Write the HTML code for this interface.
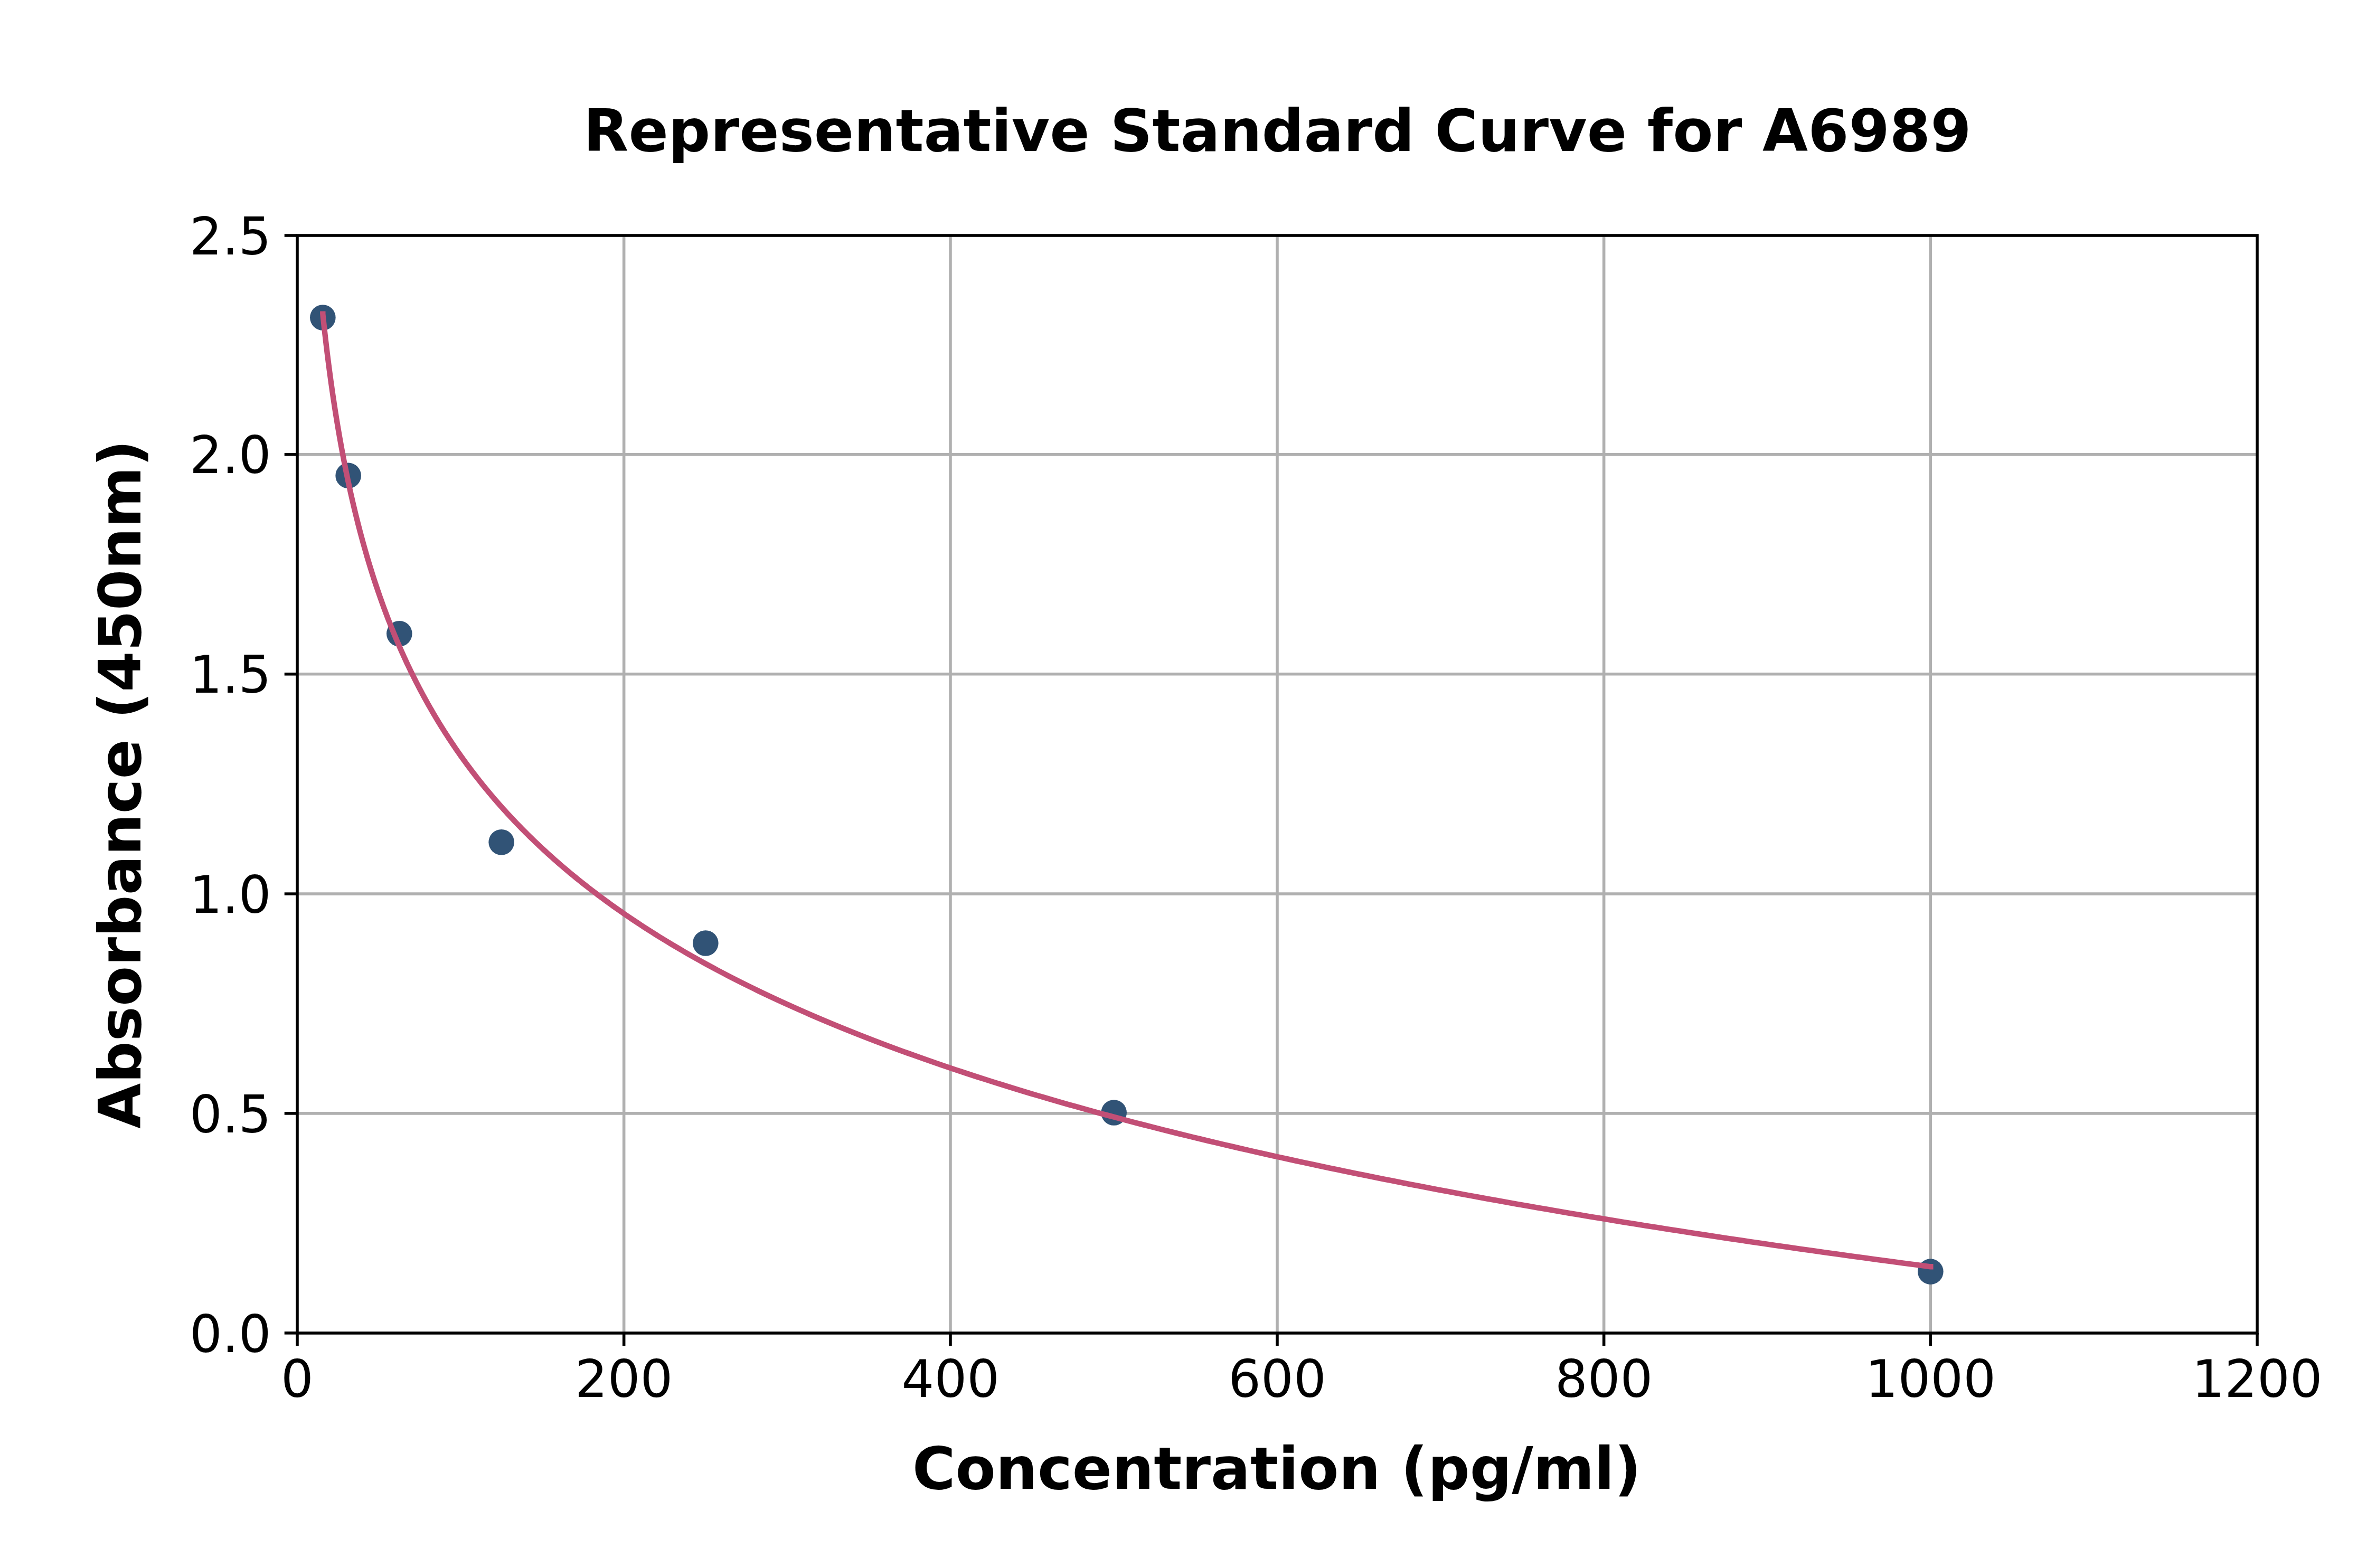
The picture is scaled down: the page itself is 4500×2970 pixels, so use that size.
<!DOCTYPE html>
<html lang="en"><head><meta charset="utf-8"><title>Representative Standard Curve for A6989</title>
<style>
html,body{margin:0;padding:0;background:#fff;}
body{width:4500px;height:2970px;overflow:hidden;}
svg{display:block;}
text{font-family:"DejaVu Sans","Liberation Sans",sans-serif;fill:#000;}
.tick{font-size:97.2px;}
.lab{font-size:111.1px;font-weight:bold;}
</style></head><body>
<svg width="4500" height="2970" viewBox="0 0 4500 2970">
<rect width="4500" height="2970" fill="#ffffff"/>

<g stroke="#b0b0b0" stroke-width="5.56" fill="none">
<line x1="1181.67" y1="446.0" x2="1181.67" y2="2525.0"/>
<line x1="1800.00" y1="446.0" x2="1800.00" y2="2525.0"/>
<line x1="2419.00" y1="446.0" x2="2419.00" y2="2525.0"/>
<line x1="3037.67" y1="446.0" x2="3037.67" y2="2525.0"/>
<line x1="3656.20" y1="446.0" x2="3656.20" y2="2525.0"/>
<line x1="563.0" y1="2108.90" x2="4275.0" y2="2108.90"/>
<line x1="563.0" y1="1693.10" x2="4275.0" y2="1693.10"/>
<line x1="563.0" y1="1276.80" x2="4275.0" y2="1276.80"/>
<line x1="563.0" y1="860.85" x2="4275.0" y2="860.85"/>
</g>
<g fill="#315376">
<circle cx="611.33" cy="601.51" r="24.3"/>
<circle cx="659.67" cy="900.89" r="24.3"/>
<circle cx="756.33" cy="1200.26" r="24.3"/>
<circle cx="949.67" cy="1595.27" r="24.3"/>
<circle cx="1336.33" cy="1786.54" r="24.3"/>
<circle cx="2109.67" cy="2107.54" r="24.3"/>
<circle cx="3656.33" cy="2408.58" r="24.3"/>
</g>
<path d="M611.33,589.45 L611.33,594.65 L611.74,598.52 L612.15,602.39 L612.56,606.26 L612.97,610.13 L613.39,613.99 L613.81,617.86 L614.24,621.72 L614.67,625.59 L615.10,629.45 L615.53,633.31 L615.97,637.17 L616.42,641.03 L616.86,644.89 L617.32,648.74 L617.77,652.60 L618.23,656.45 L618.69,660.31 L619.16,664.16 L619.63,668.01 L620.10,671.86 L620.58,675.71 L621.06,679.56 L621.55,683.41 L622.04,687.26 L622.53,691.10 L623.03,694.94 L623.53,698.79 L624.04,702.63 L624.55,706.47 L625.06,710.31 L625.58,714.15 L626.11,717.99 L626.63,721.83 L627.17,725.66 L627.70,729.50 L628.25,733.33 L628.79,737.16 L629.34,741.00 L629.90,744.83 L630.46,748.66 L631.02,752.48 L631.59,756.31 L632.17,760.14 L632.74,763.96 L633.33,767.79 L633.92,771.61 L634.51,775.43 L635.11,779.26 L635.71,783.08 L636.32,786.90 L636.93,790.71 L637.55,794.53 L638.18,798.35 L638.81,802.16 L639.44,805.98 L640.08,809.79 L640.73,813.60 L641.38,817.41 L642.03,821.22 L642.69,825.03 L643.36,828.84 L644.03,832.65 L644.71,836.45 L645.40,840.26 L646.08,844.06 L646.78,847.86 L647.48,851.67 L648.19,855.47 L648.90,859.27 L649.62,863.06 L650.35,866.86 L651.08,870.66 L651.81,874.45 L652.56,878.25 L653.31,882.04 L654.06,885.83 L654.82,889.63 L655.59,893.42 L656.37,897.21 L657.15,900.99 L657.94,904.78 L658.73,908.57 L659.53,912.35 L660.34,916.14 L661.16,919.92 L661.98,923.70 L662.80,927.48 L663.64,931.26 L664.48,935.04 L665.33,938.82 L666.19,942.60 L667.05,946.37 L667.92,950.15 L668.80,953.92 L669.69,957.69 L670.58,961.46 L671.48,965.24 L672.39,969.00 L673.30,972.77 L674.23,976.54 L675.16,980.31 L676.10,984.07 L677.04,987.84 L678.00,991.60 L678.96,995.36 L679.93,999.12 L680.91,1002.89 L681.89,1006.64 L682.89,1010.40 L683.89,1014.16 L684.91,1017.92 L685.93,1021.67 L686.95,1025.43 L687.99,1029.18 L689.04,1032.93 L690.09,1036.68 L691.16,1040.43 L692.23,1044.18 L693.31,1047.93 L694.40,1051.68 L695.50,1055.42 L696.61,1059.17 L697.73,1062.91 L698.86,1066.65 L699.99,1070.40 L701.14,1074.14 L702.30,1077.88 L703.46,1081.61 L704.64,1085.35 L705.82,1089.09 L707.02,1092.82 L708.22,1096.56 L709.44,1100.29 L710.66,1104.03 L711.90,1107.76 L713.15,1111.49 L714.40,1115.22 L715.67,1118.95 L716.95,1122.67 L718.24,1126.40 L719.53,1130.13 L720.84,1133.85 L722.17,1137.57 L723.50,1141.30 L724.84,1145.02 L726.20,1148.74 L727.56,1152.46 L728.94,1156.17 L730.33,1159.89 L731.73,1163.61 L733.14,1167.32 L734.56,1171.04 L736.00,1174.75 L737.45,1178.46 L738.91,1182.17 L740.38,1185.88 L741.86,1189.59 L743.36,1193.30 L744.87,1197.01 L746.39,1200.71 L747.93,1204.42 L749.48,1208.12 L751.04,1211.83 L752.61,1215.53 L754.20,1219.23 L755.80,1222.93 L757.41,1226.63 L759.04,1230.33 L760.68,1234.02 L762.33,1237.72 L764.00,1241.41 L765.68,1245.11 L767.38,1248.80 L769.09,1252.49 L770.81,1256.18 L772.55,1259.87 L774.31,1263.56 L776.08,1267.25 L777.86,1270.93 L779.66,1274.62 L781.47,1278.30 L783.30,1281.99 L785.14,1285.67 L787.00,1289.35 L788.88,1293.03 L790.77,1296.71 L792.67,1300.39 L794.60,1304.07 L796.53,1307.74 L798.49,1311.42 L800.46,1315.09 L802.45,1318.77 L804.45,1322.44 L806.47,1326.11 L808.51,1329.78 L810.56,1333.45 L812.64,1337.12 L814.73,1340.79 L816.83,1344.45 L818.96,1348.12 L821.10,1351.78 L823.26,1355.45 L825.44,1359.11 L827.63,1362.77 L829.85,1366.43 L832.08,1370.09 L834.33,1373.75 L836.60,1377.40 L838.89,1381.06 L841.20,1384.72 L843.53,1388.37 L845.88,1392.02 L848.25,1395.67 L850.63,1399.33 L853.04,1402.98 L855.47,1406.62 L857.92,1410.27 L860.39,1413.92 L862.87,1417.57 L865.38,1421.21 L867.91,1424.85 L870.47,1428.50 L873.04,1432.14 L875.63,1435.78 L878.25,1439.42 L880.89,1443.06 L883.55,1446.70 L886.23,1450.33 L888.94,1453.97 L891.67,1457.61 L894.42,1461.24 L897.19,1464.87 L899.99,1468.50 L902.81,1472.14 L905.65,1475.76 L908.52,1479.39 L911.41,1483.02 L914.33,1486.65 L917.27,1490.27 L920.23,1493.90 L923.22,1497.52 L926.24,1501.15 L929.28,1504.77 L932.34,1508.39 L935.43,1512.01 L938.55,1515.63 L941.69,1519.24 L944.86,1522.86 L948.06,1526.48 L951.28,1530.09 L954.53,1533.71 L957.81,1537.32 L961.11,1540.93 L964.44,1544.54 L967.80,1548.15 L971.19,1551.76 L974.61,1555.37 L978.05,1558.97 L981.53,1562.58 L985.03,1566.18 L988.56,1569.79 L992.12,1573.39 L995.71,1576.99 L999.34,1580.59 L1002.99,1584.19 L1006.67,1587.79 L1010.38,1591.39 L1014.13,1594.99 L1017.90,1598.58 L1021.71,1602.18 L1025.55,1605.77 L1029.42,1609.36 L1033.32,1612.95 L1037.26,1616.54 L1041.23,1620.13 L1045.23,1623.72 L1049.27,1627.31 L1053.34,1630.90 L1057.44,1634.48 L1061.58,1638.07 L1065.75,1641.65 L1069.96,1645.23 L1074.20,1648.82 L1078.48,1652.40 L1082.80,1655.98 L1087.15,1659.55 L1091.53,1663.13 L1095.96,1666.71 L1100.42,1670.28 L1104.91,1673.86 L1109.45,1677.43 L1114.02,1681.01 L1118.63,1684.58 L1123.28,1688.15 L1127.97,1691.72 L1132.70,1695.29 L1137.47,1698.85 L1142.28,1702.42 L1147.13,1705.99 L1152.02,1709.55 L1156.94,1713.11 L1161.92,1716.68 L1166.93,1720.24 L1171.98,1723.80 L1177.08,1727.36 L1182.22,1730.92 L1187.40,1734.48 L1192.63,1738.03 L1197.90,1741.59 L1203.21,1745.14 L1208.57,1748.70 L1213.97,1752.25 L1219.42,1755.80 L1224.91,1759.35 L1230.45,1762.90 L1236.04,1766.45 L1241.67,1770.00 L1247.35,1773.54 L1253.08,1777.09 L1258.85,1780.63 L1264.68,1784.18 L1270.55,1787.72 L1276.47,1791.26 L1282.44,1794.80 L1288.47,1798.34 L1294.54,1801.88 L1300.66,1805.42 L1306.83,1808.96 L1313.06,1812.49 L1319.34,1816.03 L1325.67,1819.56 L1332.05,1823.09 L1338.48,1826.63 L1344.97,1830.16 L1351.52,1833.69 L1358.12,1837.22 L1364.77,1840.74 L1371.48,1844.27 L1378.25,1847.80 L1385.07,1851.32 L1391.95,1854.85 L1398.89,1858.37 L1405.89,1861.89 L1412.94,1865.41 L1420.05,1868.93 L1427.23,1872.45 L1434.46,1875.97 L1441.75,1879.49 L1449.11,1883.00 L1456.52,1886.52 L1464.00,1890.03 L1471.54,1893.54 L1479.15,1897.06 L1486.81,1900.57 L1494.55,1904.08 L1502.34,1907.59 L1510.20,1911.09 L1518.13,1914.60 L1526.13,1918.11 L1534.19,1921.61 L1542.31,1925.12 L1550.51,1928.62 L1558.78,1932.12 L1567.11,1935.62 L1575.51,1939.12 L1583.99,1942.62 L1592.53,1946.12 L1601.15,1949.62 L1609.84,1953.11 L1618.60,1956.61 L1627.43,1960.10 L1636.34,1963.60 L1645.32,1967.09 L1654.38,1970.58 L1663.52,1974.07 L1672.73,1977.56 L1682.01,1981.05 L1691.38,1984.54 L1700.82,1988.02 L1710.35,1991.51 L1719.95,1994.99 L1729.63,1998.48 L1739.40,2001.96 L1749.24,2005.44 L1759.17,2008.92 L1769.18,2012.40 L1779.27,2015.88 L1789.45,2019.36 L1799.72,2022.83 L1810.07,2026.31 L1820.51,2029.78 L1831.03,2033.26 L1841.64,2036.73 L1852.34,2040.20 L1863.13,2043.67 L1874.02,2047.14 L1884.99,2050.61 L1896.05,2054.08 L1907.21,2057.54 L1918.46,2061.01 L1929.80,2064.47 L1941.24,2067.94 L1952.78,2071.40 L1964.41,2074.86 L1976.14,2078.32 L1987.96,2081.78 L1999.89,2085.24 L2011.92,2088.70 L2024.04,2092.16 L2036.27,2095.61 L2048.60,2099.07 L2061.03,2102.52 L2073.57,2105.98 L2086.21,2109.43 L2098.96,2112.88 L2111.82,2116.33 L2124.78,2119.78 L2137.85,2123.23 L2151.03,2126.67 L2164.32,2130.12 L2177.72,2133.56 L2191.24,2137.01 L2204.86,2140.45 L2218.61,2143.89 L2232.46,2147.34 L2246.43,2150.78 L2260.52,2154.22 L2274.73,2157.65 L2289.06,2161.09 L2303.50,2164.53 L2318.07,2167.96 L2332.76,2171.40 L2347.57,2174.83 L2362.50,2178.26 L2377.56,2181.70 L2392.75,2185.13 L2408.06,2188.56 L2423.51,2191.98 L2439.08,2195.41 L2454.78,2198.84 L2470.61,2202.27 L2486.58,2205.69 L2502.68,2209.11 L2518.91,2212.54 L2535.28,2215.96 L2551.79,2219.38 L2568.43,2222.80 L2585.21,2226.22 L2602.14,2229.64 L2619.20,2233.05 L2636.41,2236.47 L2653.77,2239.88 L2671.26,2243.30 L2688.91,2246.71 L2706.70,2250.12 L2724.64,2253.53 L2742.73,2256.94 L2760.98,2260.35 L2779.37,2263.76 L2797.92,2267.17 L2816.63,2270.58 L2835.49,2273.98 L2854.51,2277.39 L2873.69,2280.79 L2893.02,2284.19 L2912.52,2287.59 L2932.19,2290.99 L2952.02,2294.39 L2972.01,2297.79 L2992.17,2301.19 L3012.50,2304.59 L3033.00,2307.98 L3053.68,2311.38 L3074.52,2314.77 L3095.54,2318.16 L3116.74,2321.55 L3138.11,2324.95 L3159.66,2328.34 L3181.39,2331.72 L3203.31,2335.11 L3225.40,2338.50 L3247.69,2341.89 L3270.16,2345.27 L3292.81,2348.65 L3315.66,2352.04 L3338.70,2355.42 L3361.93,2358.80 L3385.35,2362.18 L3408.97,2365.56 L3432.79,2368.94 L3456.81,2372.32 L3481.03,2375.69 L3505.45,2379.07 L3530.08,2382.44 L3554.91,2385.82 L3579.95,2389.19 L3605.20,2392.56 L3630.66,2395.93 L3656.33,2399.30 L3661.53,2399.30" fill="none" stroke="#c24f76" stroke-width="10.4" stroke-linecap="butt" stroke-linejoin="round"/>
<g stroke="#000" stroke-width="5.56">
<line x1="563.00" y1="2525.0" x2="563.00" y2="2549.3"/>
<line x1="1181.67" y1="2525.0" x2="1181.67" y2="2549.3"/>
<line x1="1800.00" y1="2525.0" x2="1800.00" y2="2549.3"/>
<line x1="2419.00" y1="2525.0" x2="2419.00" y2="2549.3"/>
<line x1="3037.67" y1="2525.0" x2="3037.67" y2="2549.3"/>
<line x1="3656.20" y1="2525.0" x2="3656.20" y2="2549.3"/>
<line x1="4275.00" y1="2525.0" x2="4275.00" y2="2549.3"/>
<line x1="538.7" y1="2524.90" x2="563.0" y2="2524.90"/>
<line x1="538.7" y1="2108.90" x2="563.0" y2="2108.90"/>
<line x1="538.7" y1="1693.10" x2="563.0" y2="1693.10"/>
<line x1="538.7" y1="1276.80" x2="563.0" y2="1276.80"/>
<line x1="538.7" y1="860.85" x2="563.0" y2="860.85"/>
<line x1="538.7" y1="446.00" x2="563.0" y2="446.00"/>
</g>
<rect x="563.0" y="446.0" width="3712.0" height="2079.0" fill="none" stroke="#000" stroke-width="5.56" stroke-linejoin="miter"/>
<text class="tick" x="563.00" y="2645.7" text-anchor="middle">0</text>
<text class="tick" x="1181.67" y="2645.7" text-anchor="middle">200</text>
<text class="tick" x="1800.33" y="2645.7" text-anchor="middle">400</text>
<text class="tick" x="2419.00" y="2645.7" text-anchor="middle">600</text>
<text class="tick" x="3037.67" y="2645.7" text-anchor="middle">800</text>
<text class="tick" x="3656.33" y="2645.7" text-anchor="middle">1000</text>
<text class="tick" x="4275.00" y="2645.7" text-anchor="middle">1200</text>
<text class="tick" x="513.5" y="2560.50" text-anchor="end">0.0</text>
<text class="tick" x="513.5" y="2144.50" text-anchor="end">0.5</text>
<text class="tick" x="513.5" y="1728.70" text-anchor="end">1.0</text>
<text class="tick" x="513.5" y="1312.40" text-anchor="end">1.5</text>
<text class="tick" x="513.5" y="896.45" text-anchor="end">2.0</text>
<text class="tick" x="513.5" y="481.60" text-anchor="end">2.5</text>
<text class="lab" x="2419.2" y="286.2" style="font-size:111.2px" text-anchor="middle">Representative Standard Curve for A6989</text>
<text class="lab" x="2418.2" y="2820" text-anchor="middle">Concentration (pg/ml)</text>
<text class="lab" transform="translate(266.4,1485.4) rotate(-90)" text-anchor="middle">Absorbance (450nm)</text>
</svg></body></html>
